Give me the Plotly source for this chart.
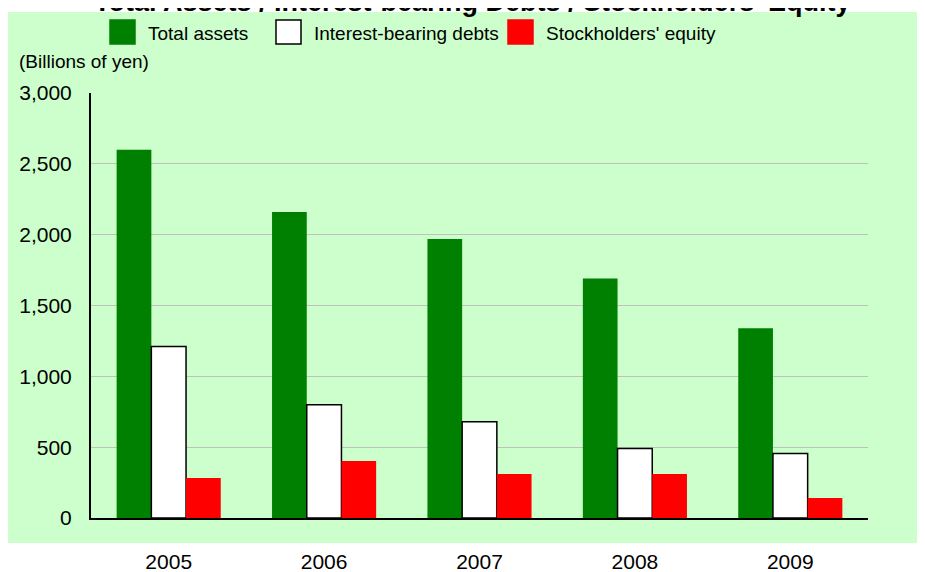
import plotly.graph_objects as go

# Values in billions of yen
years = ["2005", "2006", "2007", "2008", "2009"]
total_assets = [2600, 2160, 1970, 1690, 1340]
interest_bearing_debts = [1210, 800, 680, 490, 455]
stockholders_equity = [283, 402, 311, 311, 141]

series_names = ["Total assets", "Interest-bearing debts", "Stockholders' equity"]
y_ticks = [0, 500, 1000, 1500, 2000, 2500, 3000]
y_tick_labels = ["0", "500", "1,000", "1,500", "2,000", "2,500", "3,000"]

BG = "#CCFFCC"
FONT = "Liberation Sans, Arial, sans-serif"

fig = go.Figure()
fig.add_trace(go.Bar(x=years, y=total_assets, name=series_names[0],
                     marker=dict(color="#008000", line=dict(width=0))))
fig.add_trace(go.Bar(x=years, y=interest_bearing_debts, name=series_names[1],
                     marker=dict(color="white", line=dict(color="black", width=1.5))))
fig.add_trace(go.Bar(x=years, y=stockholders_equity, name=series_names[2],
                     marker=dict(color="#FF0000", line=dict(width=0))))

# the page puts the figure 8px in from the top-left corner
OFF = 8
W, H = 925 - OFF, 572 - OFF
# plot area in window pixels: x 91..868, y 93..518
L, R, T, B = 91 - OFF, 868 - OFF, 93 - OFF, 518 - OFF
pw, ph = R - L, B - T


def px(x):
    # window pixel -> paper x
    return (x - OFF - L) / pw


def py(y):
    # window pixel -> paper y
    return (B - (y - OFF)) / ph


shapes = [
    # green panel behind everything (x labels sit below it on white)
    dict(type="rect", xref="paper", yref="paper", x0=px(0), x1=px(930),
         y0=py(543), y1=py(12), fillcolor=BG, line=dict(width=0), layer="below"),
]
annotations = [
    # title is cut off by the top edge, as in the reference
    dict(text="<b>Total Assets / Interest-bearing Debts / Stockholders' Equity</b>",
         xref="paper", yref="paper", x=px(472), y=py(2), xanchor="center",
         yanchor="middle", showarrow=False, font=dict(size=27, color="black")),
    dict(text="(Billions of yen)", xref="paper", yref="paper", x=px(17), y=py(62),
         xanchor="left", yanchor="middle", showarrow=False,
         font=dict(size=19, color="black")),
]

# custom legend with large swatches
legend_items = [
    (series_names[0], "#008000", 110, 146),
    (series_names[1], "white", 276, 312),
    (series_names[2], "#FF0000", 508, 544),
]
for name, color, sx, tx in legend_items:
    shapes.append(dict(type="rect", xref="paper", yref="paper",
                       x0=px(sx), x1=px(sx + 25), y0=py(44), y1=py(20),
                       fillcolor=color,
                       line=dict(color="black" if color == "white" else color, width=1.5)))
    annotations.append(dict(text=name, xref="paper", yref="paper", x=px(tx), y=py(33),
                            xanchor="left", yanchor="middle", showarrow=False,
                            font=dict(size=19, color="black")))

fig.update_layout(
    width=W, height=H,
    margin=dict(l=L, r=W - R, t=T, b=H - B, autoexpand=False),
    paper_bgcolor="white",
    plot_bgcolor=BG,
    font=dict(family=FONT, color="black"),
    barmode="group",
    bargap=0.33,
    bargroupgap=0,
    showlegend=False,
    shapes=shapes,
    annotations=annotations,
)
fig.update_xaxes(showline=True, linecolor="black", linewidth=2, showgrid=False,
                 automargin=False, ticks="", ticklabelstandoff=24,
                 tickfont=dict(size=21))
fig.update_yaxes(range=[0, 3000], tickvals=y_ticks, ticktext=y_tick_labels,
                 showline=True, linecolor="black", linewidth=2,
                 gridcolor="#C0C0C0", gridwidth=1, zeroline=False,
                 automargin=False, ticks="", ticklabelstandoff=13,
                 tickfont=dict(size=21))

fig.write_html("out.html")
